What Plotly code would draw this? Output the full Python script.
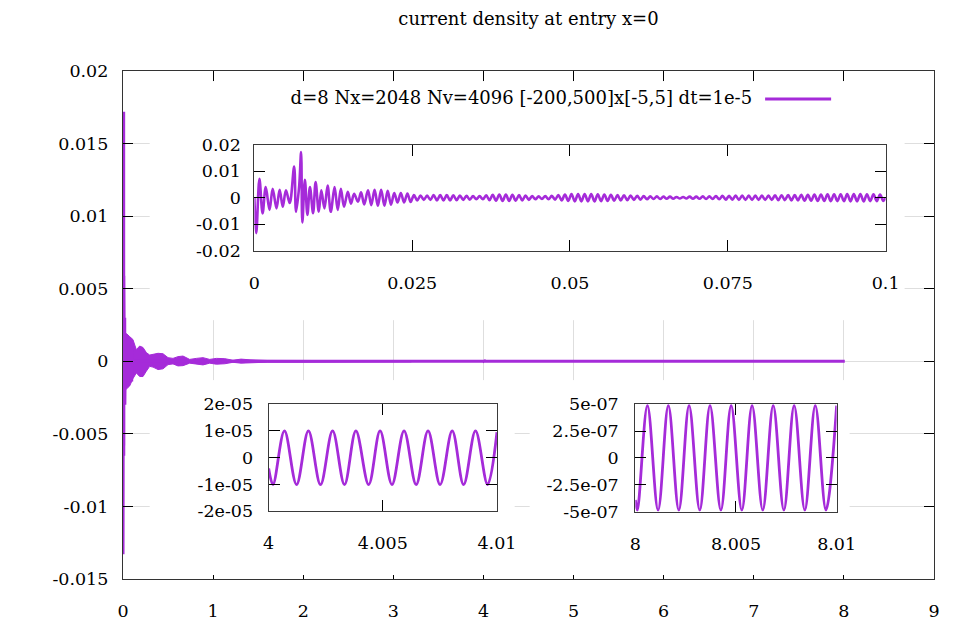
import plotly.graph_objects as go

PURPLE = "#a52bd9"
FONT = "DejaVu Serif"

# ---------------- data ----------------
early_t = [0.0, 0.0003, 0.0008, 0.0013, 0.0018, 0.0024, 0.0029, 0.0035, 0.0040,
           0.0045, 0.0050, 0.0056, 0.0063, 0.0066, 0.0071, 0.0074, 0.0076, 0.0080,
           0.0084, 0.0088, 0.0093, 0.0097, 0.0102, 0.0106, 0.0111, 0.0116, 0.0121,
           0.0127, 0.0132, 0.0137, 0.0142, 0.0148, 0.0153, 0.0158, 0.0164, 0.0169,
           0.0174]
early_j = [0.0, -0.0133, 0.0071, -0.0059, 0.0040, -0.0046, 0.0034, -0.0040, 0.0030,
           -0.0034, 0.0028, -0.0020, 0.0117, -0.0053, 0.0045, 0.0172, -0.0093, 0.0067,
           -0.0065, 0.0040, -0.0058, 0.0059, -0.0053, 0.0028, -0.0040, 0.0046, -0.0053,
           0.0040, -0.0046, 0.0034, -0.0034, 0.0022, -0.0022, 0.0015, -0.0015, 0.0020,
           -0.0025]

osc_start = 0.0180
osc_period = 0.00104
osc_amp_milli = [2.8, 3.0, 3.0, 2.6,
                 1.8, 1.8, 1.6,
                 1.0, 0.8, 0.8,
                 1.0, 1.0, 1.0, 0.9, 0.8, 0.7,
                 0.6, 0.6,
                 0.9, 1.1, 1.2, 1.2, 1.1, 1.0,
                 0.8, 0.6, 0.5, 0.6, 0.7,
                 1.0, 1.2, 1.4, 1.4, 1.4, 1.4, 1.3, 1.2, 1.1,
                 1.0, 0.9, 0.8, 0.7, 0.6,
                 0.5, 0.5, 0.4, 0.4,
                 0.3, 0.3, 0.4, 0.4, 0.5, 0.5, 0.6,
                 0.7, 0.7, 0.8, 0.8, 0.8, 0.8, 0.8, 0.8, 0.9, 0.9, 1.0, 1.0,
                 1.1, 1.1, 1.2, 1.2, 1.3, 1.3, 1.3, 1.4, 1.4, 1.4, 1.3, 1.3, 1.2]
osc_end_t = 0.1
osc_end_j = 0.0

band_t = [0.02, 0.04, 0.074, 0.11, 0.148, 0.185, 0.222, 0.259, 0.296, 0.333, 0.389,
          0.444, 0.50, 0.555, 0.61, 0.666, 0.74, 0.814, 0.888, 0.962, 1.036, 1.13,
          1.22, 1.31, 1.41, 1.6, 2.0, 2.5, 3.0, 3.2]
band_up = [0.0019, 0.0019, 0.0017, 0.0015, 0.0008, 0.00105, 0.00095, 0.0006, 0.00043,
           0.00048, 0.00055, 0.00052, 0.00025, 0.0002, 0.00032, 0.00036, 0.00013,
           0.0002, 0.00025, 0.00013, 0.0002, 0.00018, 0.00007, 0.00015, 0.0001,
           0.00006, 0.00006, 0.00005, 0.00005, 0.00004]
band_lo = [-0.0020, -0.0019, -0.0017, -0.0012, -0.0008, -0.00105, -0.00105, -0.00068,
           -0.00035, -0.0004, -0.00057, -0.00052, -0.00023, -0.00018, -0.00032,
           -0.0003, -0.00013, -0.0002, -0.00025, -0.00013, -0.0002, -0.00017,
           -0.00007, -0.00013, -0.0001, -0.00006, -0.00006, -0.00005, -0.00005,
           -0.00004]

w4_t = [4.0, 4.00019, 4.00069, 4.00122, 4.00174, 4.00227, 4.00280, 4.00332, 4.00382,
        4.00438, 4.00488, 4.00540, 4.00593, 4.00646, 4.00698, 4.00751, 4.00804,
        4.00854, 4.00906, 4.00959, 4.01]
w4_j = [-0.4e-5, -1.0e-5, 1.0e-5, -1.0e-5, 1.0e-5, -1.0e-5, 1.0e-5, -1.0e-5, 1.0e-5,
        -1.0e-5, 1.0e-5, -1.0e-5, 1.0e-5, -1.0e-5, 1.0e-5, -1.0e-5, 1.0e-5,
        -1.0e-5, 1.0e-5, -1.0e-5, 0.95e-5]

w8_t = [8.0, 8.00010, 8.00060, 8.00113, 8.00164, 8.00216, 8.00267, 8.00320, 8.00371,
        8.00425, 8.00476, 8.00529, 8.00580, 8.00633, 8.00685, 8.00738, 8.00789,
        8.00842, 8.00894, 8.00947, 8.01]
w8_j = [-3.9e-7, -4.85e-7, 4.85e-7, -4.85e-7, 4.85e-7, -4.85e-7, 4.85e-7, -4.85e-7,
        4.85e-7, -4.85e-7, 4.85e-7, -4.85e-7, 4.85e-7, -4.85e-7, 4.85e-7, -4.85e-7,
        4.85e-7, -4.85e-7, 4.85e-7, -4.85e-7, 4.85e-7]

main_xticks = [0, 1, 2, 3, 4, 5, 6, 7, 8, 9]
main_xlabels = ["0", "1", "2", "3", "4", "5", "6", "7", "8", "9"]
main_yticks = [0.02, 0.015, 0.01, 0.005, 0, -0.005, -0.01, -0.015]
main_ylabels = ["0.02", "0.015", "0.01", "0.005", "0", "-0.005", "-0.01", "-0.015"]
top_xticks = [0, 0.025, 0.05, 0.075, 0.1]
top_xlabels = ["0", "0.025", "0.05", "0.075", "0.1"]
top_yticks = [0.02, 0.01, 0, -0.01, -0.02]
top_ylabels = ["0.02", "0.01", "0", "-0.01", "-0.02"]
w4_xticks = [4, 4.005, 4.01]
w4_xlabels = ["4", "4.005", "4.01"]
w4_yticks = [2e-5, 1e-5, 0, -1e-5, -2e-5]
w4_ylabels = ["2e-05", "1e-05", "0", "-1e-05", "-2e-05"]
w8_xticks = [8, 8.005, 8.01]
w8_xlabels = ["8", "8.005", "8.01"]
w8_yticks = [5e-7, 2.5e-7, 0, -2.5e-7, -5e-7]
w8_ylabels = ["5e-07", "2.5e-07", "0", "-2.5e-07", "-5e-07"]

title_text = "current density at entry x=0"
series_label = "d=8 Nx=2048 Nv=4096 [-200,500]x[-5,5] dt=1e-5"

# ---------------- assemble the 0..0.1 signal ----------------
osc_t, osc_j = [], []
for k, a in enumerate(osc_amp_milli):
    t_peak = osc_start + k * osc_period
    osc_t += [t_peak, t_peak + osc_period / 2]
    osc_j += [a * 1e-3, -a * 1e-3]
start_t = early_t + osc_t + [osc_end_t]
start_j = early_j + osc_j + [osc_end_j]

# ---------------- geometry (page pixels; page has an 8px body margin) ----------------
PAGE_W, PAGE_H, OFF = 965, 644, 8
W, H = PAGE_W - OFF, PAGE_H - OFF
L, R, T, B = 123.3, 934.4, 70.7, 579.0


def px_dom(p0, p1):
    return [(p0 - L) / (R - L), (p1 - L) / (R - L)]


def py_dom(top, bottom):
    return [(B - bottom) / (B - T), (B - top) / (B - T)]


fig = go.Figure()

# main: envelope band of the fast oscillation
fig.add_trace(go.Scatter(
    x=band_t + band_t[::-1], y=band_up + band_lo[::-1],
    fill="toself", fillcolor=PURPLE, mode="lines",
    line=dict(color=PURPLE, width=1), showlegend=False, hoverinfo="skip",
    xaxis="x", yaxis="y"))
# main: the known samples
fig.add_trace(go.Scatter(
    x=start_t + w4_t + w8_t, y=start_j + w4_j + w8_j,
    mode="lines", line=dict(color=PURPLE, width=3),
    name=" ", showlegend=True, xaxis="x", yaxis="y"))

# empty areas cleared by the insets (their white background hides the main grid)
for i in (2, 3, 4):
    fig.add_trace(go.Scatter(x=[None], y=[None], mode="lines", showlegend=False,
                             hoverinfo="skip", xaxis=f"x{i}", yaxis=f"y{i}"))

# insets
fig.add_trace(go.Scatter(x=start_t, y=start_j, mode="lines",
                         line=dict(color=PURPLE, width=2.6, shape="spline"),
                         showlegend=False, xaxis="x5", yaxis="y5"))
fig.add_trace(go.Scatter(x=w4_t, y=w4_j, mode="lines",
                         line=dict(color=PURPLE, width=2.8, shape="spline"),
                         showlegend=False, xaxis="x6", yaxis="y6"))
fig.add_trace(go.Scatter(x=w8_t, y=w8_j, mode="lines",
                         line=dict(color=PURPLE, width=2.8, shape="spline"),
                         showlegend=False, xaxis="x7", yaxis="y7"))

TF = dict(family=FONT, size=17.5, color="black")
BIG = dict(family=FONT, size=18, color="black")


def ax(tickvals, ticktext, rng, domain, anchor, grid=False, ticklen=11,
       standoff=0, linecolor="#3a3a3a"):
    return dict(range=rng, domain=domain, anchor=anchor, tickmode="array",
                tickvals=tickvals, ticktext=ticktext, ticks="inside",
                ticklen=ticklen, tickwidth=1.2, tickcolor="black",
                showline=True, linecolor=linecolor, linewidth=1.2,
                mirror="ticks", showgrid=grid, gridcolor="#dedede", gridwidth=1,
                zeroline=False, tickfont=TF, ticklabelstandoff=standoff,
                automargin=False, fixedrange=True)


def blank(domain, anchor):
    return dict(range=[0, 1], domain=domain, anchor=anchor, visible=False,
                showgrid=False, zeroline=False, fixedrange=True)


layout = dict(
    width=W, height=H,
    margin=dict(l=L - OFF, r=PAGE_W - R, t=T - OFF, b=PAGE_H - B, autoexpand=False),
    paper_bgcolor="white", plot_bgcolor="white",
    font=BIG,
    title=dict(text=title_text, x=0.5, xref="paper", xanchor="center",
               y=1 - (19 - OFF) / H, yref="container", yanchor="middle",
               font=BIG),
    xaxis=ax(main_xticks, main_xlabels, [0, 9], [0, 1], "y", grid=True,
             ticklen=10, standoff=16, linecolor="#333"),
    yaxis=ax(main_yticks, main_ylabels, [-0.015, 0.02], [0, 1], "x", grid=True,
             ticklen=10, standoff=10, linecolor="#333"),
    xaxis2=blank(px_dom(150, 905), "y2"),
    yaxis2=blank(py_dom(81, 320), "x2"),
    xaxis3=blank(px_dom(150, 515), "y3"),
    yaxis3=blank(py_dom(380, 575), "x3"),
    xaxis4=blank(px_dom(530, 850), "y4"),
    yaxis4=blank(py_dom(380, 575), "x4"),
    xaxis5=ax(top_xticks, top_xlabels, [0, 0.1], px_dom(254.7, 886), "y5",
              standoff=16),
    yaxis5=ax(top_yticks, top_ylabels, [-0.02, 0.02], py_dom(144.3, 250.7), "x5",
              standoff=9),
    xaxis6=ax(w4_xticks, w4_xlabels, [4, 4.01], px_dom(269, 497.3), "y6",
              standoff=16),
    yaxis6=ax(w4_yticks, w4_ylabels, [-2e-5, 2e-5], py_dom(404, 511.3), "x6",
              standoff=11),
    xaxis7=ax(w8_xticks, w8_xlabels, [8, 8.01], px_dom(635.7, 837), "y7",
              standoff=16),
    yaxis7=ax(w8_yticks, w8_ylabels, [-5e-7, 5e-7], py_dom(404, 511.7), "x7",
              standoff=12),
    showlegend=True,
    legend=dict(title=dict(text=series_label, side="left", font=BIG),
                font=BIG,
                x=(848 - L) / (R - L), xanchor="right",
                y=(B - 99) / (B - T), yanchor="middle",
                bgcolor="rgba(255,255,255,0)", borderwidth=0,
                itemwidth=66),
)
fig.update_layout(**layout)
fig.write_html("out.html")
